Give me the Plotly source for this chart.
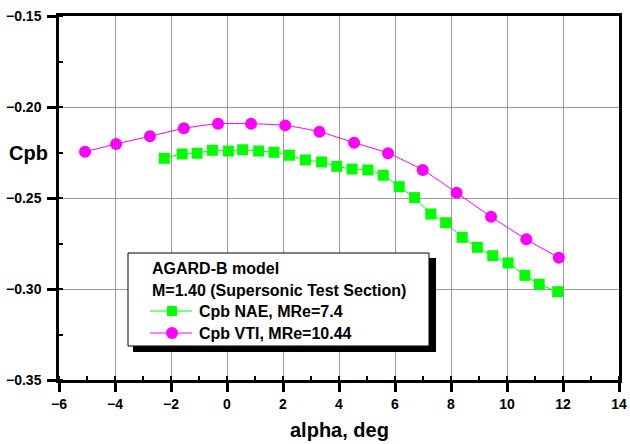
import plotly.graph_objects as go

# ---- data ----
alpha_nae = [-2.24, -1.60, -1.07, -0.52, 0.05, 0.56, 1.13, 1.68, 2.23, 2.80,
             3.38, 3.92, 4.47, 5.03, 5.58, 6.15, 6.70, 7.28, 7.81, 8.40,
             8.94, 9.49, 10.04, 10.64, 11.15, 11.81]
cpb_nae = [-0.2282, -0.2258, -0.2254, -0.2238, -0.2242, -0.2235, -0.2242, -0.2249, -0.2265, -0.2291,
           -0.2302, -0.2326, -0.2341, -0.2346, -0.2375, -0.2438, -0.2498, -0.2588, -0.2636, -0.2716,
           -0.2771, -0.2817, -0.2857, -0.2925, -0.2974, -0.3015]

alpha_vti = [-5.07, -3.96, -2.75, -1.54, -0.32, 0.86, 2.08, 3.30, 4.54, 5.75,
             6.99, 8.20, 9.43, 10.69, 11.85]
cpb_vti = [-0.2246, -0.2203, -0.2161, -0.2117, -0.2092, -0.2092, -0.2101, -0.2136, -0.2196, -0.2254,
           -0.2346, -0.2471, -0.2603, -0.2727, -0.2828]

legend_title = ["AGARD-B model", "M=1.40 (Supersonic Test Section)"]
series_names = ["Cpb NAE, MRe=7.4", "Cpb VTI, MRe=10.44"]

FONT = "Liberation Sans, Arial, sans-serif"
GREEN = "#00ff00"
MAGENTA = "#ff00ff"

# plot-area geometry (pixels)
W, H = 630, 444
L, R, T, B = 59, 619, 16, 380


def px(x):
    return (x - L) / (R - L)


def py(y):
    return (B - y) / (B - T)


fig = go.Figure()
fig.add_trace(go.Scatter(
    x=alpha_nae, y=cpb_nae, mode="lines+markers", name=series_names[0],
    line=dict(color=GREEN, width=1, shape="spline", smoothing=0.5),
    marker=dict(symbol="square", size=11, color=GREEN, line=dict(width=0)),
    showlegend=False))
fig.add_trace(go.Scatter(
    x=alpha_vti, y=cpb_vti, mode="lines+markers", name=series_names[1],
    line=dict(color=MAGENTA, width=1, shape="spline", smoothing=0.6),
    marker=dict(symbol="circle", size=12, color=MAGENTA, line=dict(width=0)),
    showlegend=False))

axis_common = dict(
    showline=True, linecolor="black", linewidth=2.5, mirror=True,
    showgrid=True, gridcolor="#9a9a9a", gridwidth=1,
    zeroline=False, automargin=False,
    ticks="outside", ticklen=9, tickwidth=2.5, tickcolor="black",
    tickfont=dict(family=FONT, size=14, color="black", weight="bold"),
)
fig.update_xaxes(range=[-6, 14], dtick=2, tick0=-6,
                 minor=dict(dtick=1, ticks="inside", ticklen=4, tickwidth=2, tickcolor="black", showgrid=False),
                 **axis_common)
fig.update_yaxes(range=[-0.35, -0.15], dtick=0.05, tick0=-0.35, tickformat=".2f",
                 minor=dict(dtick=0.025, ticks="inside", ticklen=4, tickwidth=2, tickcolor="black", showgrid=False),
                 ticklabelstandoff=3,
                 **axis_common)

shapes = []
# legend shadow and box
shapes.append(dict(type="rect", xref="paper", yref="paper",
                   x0=px(133), x1=px(436), y0=py(258), y1=py(352),
                   fillcolor="black", line=dict(width=0), layer="above"))
shapes.append(dict(type="rect", xref="paper", yref="paper",
                   x0=px(128), x1=px(429), y0=py(253), y1=py(346),
                   fillcolor="white", line=dict(color="black", width=1), layer="above"))
# legend symbols
for yy, col in ((311, GREEN), (333, MAGENTA)):
    shapes.append(dict(type="line", xref="paper", yref="paper",
                       x0=px(150), x1=px(192), y0=py(yy), y1=py(yy),
                       line=dict(color=col, width=1), layer="above"))
shapes.append(dict(type="rect", xref="paper", yref="paper",
                   x0=px(167), x1=px(177), y0=py(316), y1=py(306),
                   fillcolor=GREEN, line=dict(width=0), layer="above"))
shapes.append(dict(type="circle", xref="paper", yref="paper",
                   x0=px(166), x1=px(178), y0=py(339), y1=py(327),
                   fillcolor=MAGENTA, line=dict(width=0), layer="above"))

annotations = []
lf = dict(family=FONT, size=16, color="black", weight="bold")
for txt, yy in zip(legend_title, (268, 290)):
    annotations.append(dict(text=txt, xref="paper", yref="paper", x=px(150), y=py(yy),
                            xanchor="left", yanchor="middle", showarrow=False, font=lf))
for txt, yy in zip(series_names, (311, 333)):
    annotations.append(dict(text=txt, xref="paper", yref="paper", x=px(197), y=py(yy),
                            xanchor="left", yanchor="middle", showarrow=False, font=lf))
# axis titles
tf = dict(family=FONT, size=20, color="black", weight="bold")
annotations.append(dict(text="Cpb", xref="paper", yref="paper", x=px(50), y=py(153),
                        xanchor="right", yanchor="middle", showarrow=False, font=tf))
annotations.append(dict(text="alpha, deg", xref="paper", yref="paper", x=px(339), y=py(430),
                        xanchor="center", yanchor="middle", showarrow=False, font=tf))

fig.update_layout(
    width=W, height=H,
    margin=dict(l=L, r=W - R, t=T, b=H - B),
    paper_bgcolor="white", plot_bgcolor="white",
    shapes=shapes, annotations=annotations,
    showlegend=False,
)

fig.write_html("out.html", config={"displayModeBar": False},
               post_script="document.body.style.margin='0';document.body.style.overflow='hidden';")
